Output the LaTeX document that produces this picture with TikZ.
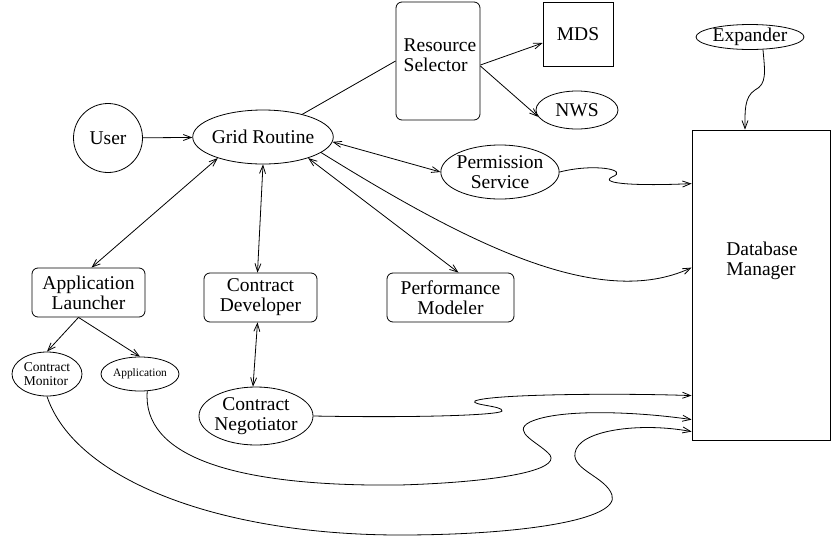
\documentclass[tikz,border=0pt]{standalone}
\usepackage{fontspec}
\setmainfont{Liberation Serif}
\usetikzlibrary{shapes.geometric}
\usepgflibrary{arrows.meta}
\usepackage{xcolor}

\tikzset{
  base/.style={font=\fontsize{19.5}{20}\selectfont,inner sep=0pt},
  proc/.style={base,draw,rounded corners=6pt,align=center},
  oval/.style={base,draw,ellipse,align=center},
  plainbox/.style={base,draw,rectangle}
}

\begin{document}
\begin{tikzpicture}[x=1pt,y=-1pt,>={Straight Barb[length=8pt,width=6pt]},line width=0.8pt]
\useasboundingbox (0,0) rectangle (831,539);

\node[base,draw,circle,minimum size=69pt] (user) at (108,138) {User};
\node[oval,minimum width=140pt,minimum height=54pt,inner xsep=-1.5pt] (grid) at (263,137) {Grid Routine};
\node[proc,minimum width=84pt,minimum height=118pt] (rsel) at (438,61) {};
\node[base,align=left] (rseltext) at (440,55) {Resource\\Selector};
\node[plainbox,minimum width=70pt,minimum height=64pt] (mds) at (578,34) {MDS};
\node[oval,minimum width=82pt,minimum height=38pt] (nws) at (577,110) {NWS};
\node[oval,minimum width=108pt,minimum height=24pt] (exp) at (750,37) {Expander};
\node[oval,minimum width=118pt,minimum height=54pt,inner xsep=-1.5pt] (perm) at (500,172) {Permission\\Service};
\node[plainbox,minimum width=138pt,minimum height=310pt] (db) at (761,285) {};
\node[base,align=left] (dblabel) at (762,261) {Database\\Manager};

\node[proc,minimum width=113pt,minimum height=49pt] (launch) at (88.5,292.5) {Application\\Launcher};
\node[proc,minimum width=113pt,minimum height=49pt] (devel) at (260.5,297.5) {Contract\\Developer};
\node[proc,minimum width=127pt,minimum height=49pt] (perf) at (450.5,297.5) {Performance\\Modeler};

\node[oval,align=left,font=\fontsize{13.5}{14.5}\selectfont,minimum width=70pt,minimum height=44pt] (mon) at (47,374) {Contract\\Monitor};
\node[oval,font=\fontsize{11.4}{12}\selectfont,minimum width=78pt,minimum height=34pt] (app) at (140,374) {Application};
\node[oval,minimum width=114pt,minimum height=58pt,inner xsep=-1.5pt] (neg) at (256,416) {Contract\\Negotiator};

% grid routine links
\draw[->] (user) -- (grid);
\draw (grid.30) -- (rsel.west);
\draw[->] ([yshift=-4pt]rsel.east) -- ([yshift=-9pt]mds.west);
\draw[->] ([yshift=-5pt]rsel.east) -- (nws.190);
\draw[<->] (grid.-4) -- (perm.west);
\draw[<->] (grid.205) -- ([xshift=3pt]launch.north);
\draw[<->] (grid.south) -- ([xshift=-3pt]devel.north);
\draw[<->] (grid.-25) -- ([xshift=8pt]perf.north);
\draw[<->] ([xshift=-3pt]devel.south) -- ([xshift=-3pt]neg.north);
\draw[->] ([xshift=-10pt]launch.south) -- (mon.north);
\draw[->] ([xshift=-10pt]launch.south) -- (app.north);

% into the database manager
\draw[->] (grid.-15) .. controls (470,245) and (600,310) .. ([yshift=-138pt]db.north west);
\draw[->] (perm.east) .. controls (595,163) and (630,170) .. (612,177)
  .. controls (598,184) and (640,186) .. ([yshift=-54pt]db.north west);
\draw[->] (exp.-44) .. controls (765,72) and (767,84) .. (755,90)
  .. controls (744,97) and (745,112) .. ([xshift=-16pt]db.north);
\draw[->] (neg.east) .. controls (420,418) and (500,415) .. (502,411)
  .. controls (504,406) and (470,405) .. (475,401)
  .. controls (490,394) and (620,393) .. ([yshift=-266pt]db.north west);
\draw[->] (app.-67) .. controls (142,455) and (230,487) .. (400,485)
  .. controls (500,482) and (560,470) .. (550,455)
  .. controls (540,443) and (510,432) .. (530,422)
  .. controls (560,408) and (640,412) .. ([yshift=-290pt]db.north west);
\draw[->] (mon.south) .. controls (75,480) and (220,535) .. (400,535)
  .. controls (520,535) and (620,520) .. (612,495)
  .. controls (606,477) and (572,470) .. (575,453)
  .. controls (578,430) and (640,422) .. ([yshift=-302pt]db.north west);
\end{tikzpicture}
\end{document}
